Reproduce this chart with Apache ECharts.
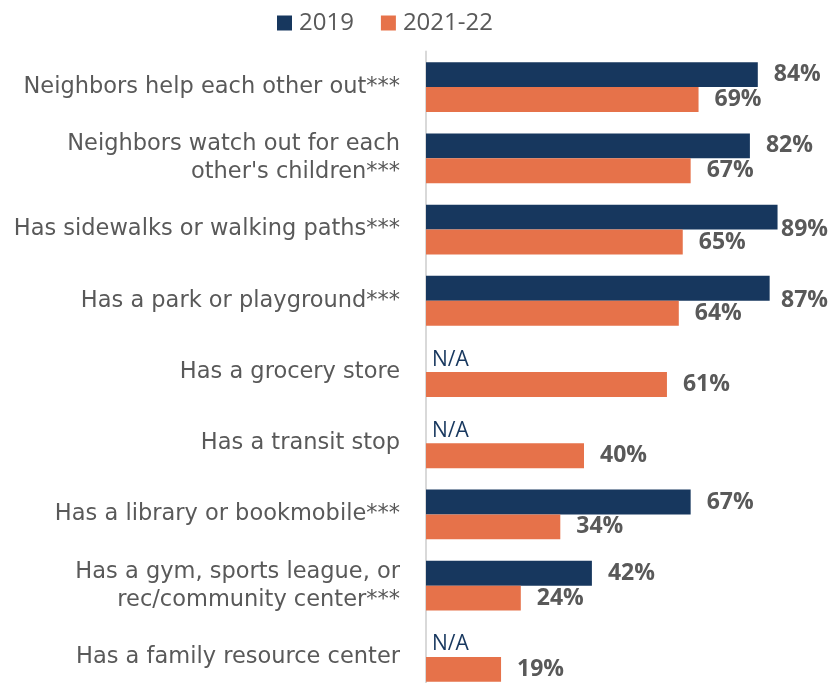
<!DOCTYPE html>
<html>
<head>
<meta charset="utf-8">
<script src="https://cdn.jsdelivr.net/npm/echarts@6/dist/echarts.min.js"></script>
<style>html,body{margin:0;padding:0;background:#fff}#c{width:830px;height:683px}</style>
</head>
<body>
<div id="c"></div>
<script>
const categories = [
  "Neighbors help each other out***",
  "Neighbors watch out for each\nother's children***",
  "Has sidewalks or walking paths***",
  "Has a park or playground***",
  "Has a grocery store",
  "Has a transit stop",
  "Has a library or bookmobile***",
  "Has a gym, sports league, or\nrec/community center***",
  "Has a family resource center"
];
const series2019 = [84, 82, 89, 87, null, null, 67, 42, null];
const series2021 = [69, 67, 65, 64, 61, 40, 34, 24, 19];
const seriesNames = ["2019", "2021-22"];

const NAVY = "#17375E";
const ORANGE = "#E6724A";
const GRAY = "#595959";
const FONT = "Open Sans";

const chart = echarts.init(document.getElementById('c'), null, {renderer: 'canvas'});

const valueLabel = {
  show: true, position: 'right', distance: 16,
  fontFamily: FONT, fontSize: 23, fontWeight: 'bold', color: GRAY,
  offset: [0, 1],
  formatter: p => p.value + '%'
};

const data2019 = series2019.map(v => v === null
  ? {value: 0, label: {show: true, position: 'right', distance: 6, formatter: 'N/A', fontWeight: 'normal', color: NAVY, fontSize: 21, offset: [0, -3]}}
  : v);

const RIGHT_LIMIT = 828;

chart.setOption({
  animation: false,
  textStyle: {fontFamily: FONT},
  legend: {
    top: 6, left: 272,
    itemWidth: 15, itemHeight: 15, itemGap: 27,
    icon: 'rect',
    textStyle: {fontFamily: FONT, fontSize: 24, color: GRAY, padding: [0, 0, 0, 2]},
    data: seriesNames
  },
  grid: {left: 426, right: 9, top: 51.5, height: 641, containLabel: false, outerBoundsMode: 'none'},
  xAxis: {
    type: 'value', min: 0, max: 100,
    show: false
  },
  yAxis: {
    type: 'category', data: categories, inverse: true,
    axisLine: {show: true, lineStyle: {color: '#D9D9D9', width: 2}},
    axisTick: {show: false},
    axisLabel: {fontFamily: 'DejaVu Sans', fontSize: 22.5, color: GRAY, margin: 26, lineHeight: 28, align: 'right'}
  },
  labelLayout: function (p) {
    const r = p.labelRect;
    if (r.x + r.width > RIGHT_LIMIT) {
      return {x: RIGHT_LIMIT - r.width};
    }
    return {};
  },
  series: [
    {
      name: seriesNames[0], type: 'bar', data: data2019,
      itemStyle: {color: NAVY},
      barGap: '0%', barCategoryGap: '30%',
      label: valueLabel
    },
    {
      name: seriesNames[1], type: 'bar', data: series2021,
      itemStyle: {color: ORANGE},
      barGap: '0%', barCategoryGap: '30%',
      label: valueLabel
    }
  ]
});
</script>
</body>
</html>
